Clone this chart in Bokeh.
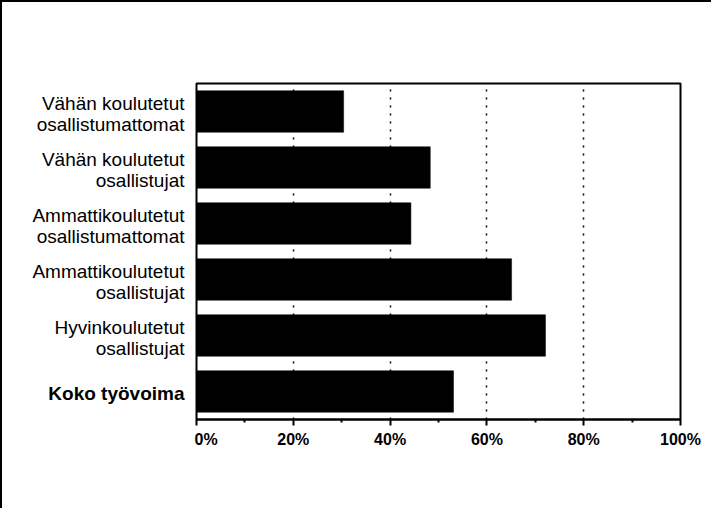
from bokeh.plotting import figure
from bokeh.layouts import row
from bokeh.models import Range1d, FixedTicker, PrintfTickFormatter, ColumnDataSource
from bokeh.core.properties import value
from bokeh.embed import file_html
from bokeh.resources import INLINE

categories = [
    "Vähän koulutetut\nosallistumattomat",
    "Vähän koulutetut\nosallistujat",
    "Ammattikoulutetut\nosallistumattomat",
    "Ammattikoulutetut\nosallistujat",
    "Hyvinkoulutetut\nosallistujat",
    "Koko työvoima",
]
values = [30.4, 48.3, 44.3, 65.1, 72.1, 53.1]
bold_label = [False, False, False, False, False, True]
x_ticks = [0, 20, 40, 60, 80, 100]
x_minor_ticks = [10, 30, 50, 70, 90]

ypos = list(range(len(categories) - 1, -1, -1))
y_range = Range1d(-0.5, len(categories) - 0.5)

# label panel
src = ColumnDataSource(dict(
    x=[1.0] * len(categories), y=ypos, text=categories,
    style=["bold" if b else "normal" for b in bold_label]))
pl = figure(width=192, height=506, x_range=Range1d(0, 1), y_range=y_range,
            output_backend="svg", toolbar_location=None,
            min_border_left=0, min_border_right=0,
            min_border_top=81, min_border_bottom=89)
pl.axis.visible = False
pl.grid.visible = False
pl.outline_line_color = None
pl.text(x="x", y="y", text="text", source=src, x_offset=-10, y_offset=2,
        text_align="right", text_baseline="middle",
        text_font=value("Liberation Sans"), text_font_size="19px",
        text_font_style="style", text_line_height=1.0, text_color="black")

# bar chart
p = figure(width=517, height=506,
           x_range=Range1d(0, 100), y_range=y_range,
           output_backend="svg", toolbar_location=None,
           min_border_left=2, min_border_right=31,
           min_border_top=81, min_border_bottom=89)
p.background_fill_color = "white"
p.border_fill_color = "white"
p.outline_line_color = "black"
p.outline_line_width = 2

p.hbar(y=ypos, left=0, right=values, height=0.74,
       fill_color="black", line_color="black", line_width=0.5)

ticker = FixedTicker(ticks=x_ticks, minor_ticks=x_minor_ticks)
p.xaxis.ticker = ticker
p.xaxis.formatter = PrintfTickFormatter(format="%d%%")
p.xaxis.axis_line_width = 2
p.xaxis.axis_line_color = "black"
p.xaxis.major_tick_line_width = 2
p.xaxis.major_tick_line_color = "black"
p.xaxis.minor_tick_line_width = 2
p.xaxis.minor_tick_line_color = "black"
p.xaxis.major_tick_out = 6
p.xaxis.major_tick_in = 0
p.xaxis.minor_tick_out = 3
p.xaxis.minor_tick_in = 0
p.xaxis.major_label_standoff = 5
p.xaxis.major_label_text_font = "Liberation Sans"
p.xaxis.major_label_text_font_style = "bold"
p.xaxis.major_label_text_font_size = "16px"
p.xaxis.major_label_text_color = "black"

p.yaxis.visible = False

p.xgrid.ticker = ticker
p.xgrid.grid_line_color = "black"
p.xgrid.grid_line_dash = "2 6"
p.xgrid.grid_line_width = 1.5
p.ygrid.visible = False

layout = row(pl, p, spacing=0)
layout.styles = {"border-top": "2px solid black", "border-left": "2px solid black"}

open("out.html", "w").write(file_html(layout, INLINE))
